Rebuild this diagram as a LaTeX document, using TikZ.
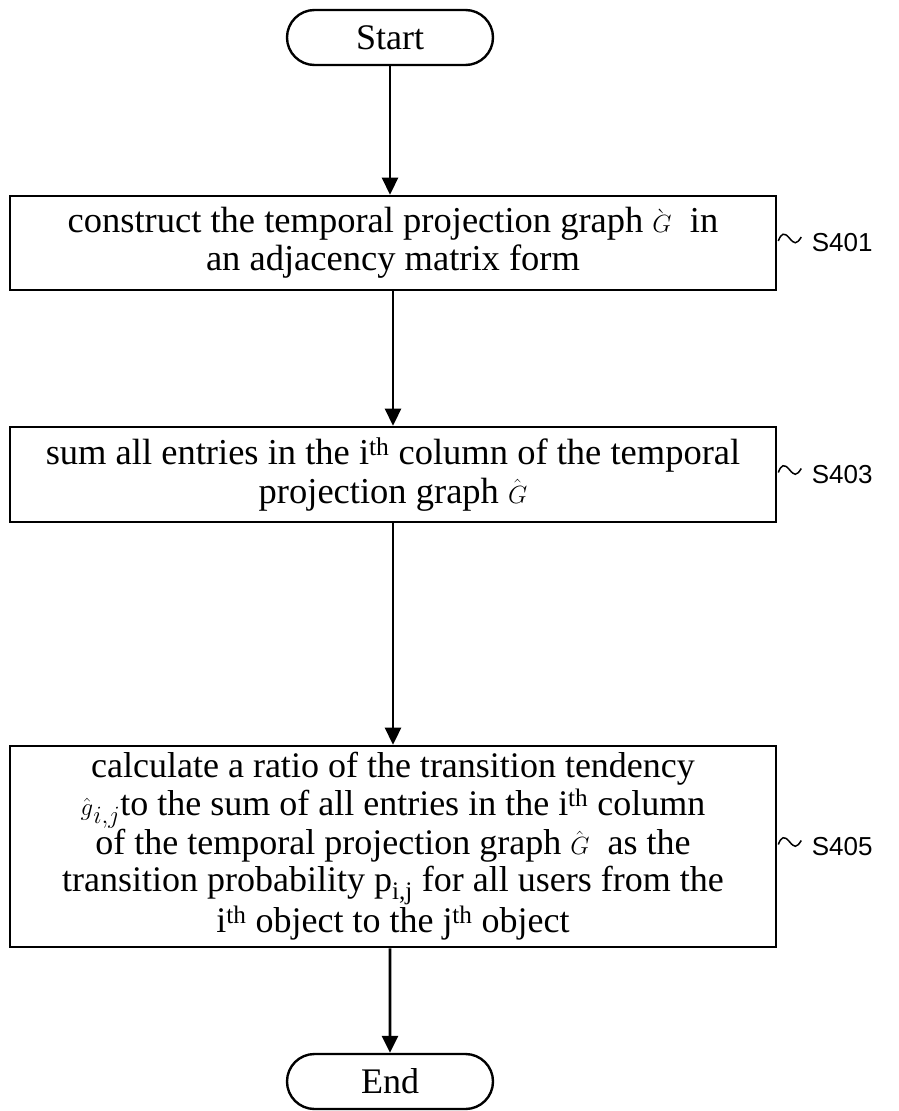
\documentclass[tikz,border=0pt]{standalone}
\usepackage{fontspec}
\setmainfont{Liberation Serif}
\newfontfamily\labfont{Liberation Sans}
\usetikzlibrary{arrows.meta,shapes.misc}
\begin{document}
\begin{tikzpicture}[x=1pt,y=-1pt,
  box/.style={draw,line width=2.6pt,minimum width=766pt,align=center,font=\fontsize{36.5}{38.5}\selectfont,inner sep=0pt},
  term/.style={draw,line width=2.4pt,rounded rectangle,minimum width=206pt,minimum height=55pt,font=\fontsize{36}{39}\selectfont,inner sep=0pt},
  arr/.style={line width=2.6pt,-{Triangle[length=17pt,width=16pt]}},
  lab/.style={font=\labfont\fontsize{26}{30}\selectfont,anchor=west},
  sq/.style={line width=1.5pt}]
\useasboundingbox (0,0) rectangle (898,1111);
\node[term] (start) at (390,37.5) {Start};
\node[box,minimum height=94pt] (s1) at (393,243) {construct the temporal projection graph $\grave{\scriptstyle G}$\ \ in\\an adjacency matrix form};
\node[box,minimum height=95pt] (s2) at (393,474.5) {sum all entries in the i\textsuperscript{th} column of the temporal\\projection graph $\hat{\scriptstyle G}$};
\node[box,minimum height=201pt,font=\fontsize{36}{37.5}\selectfont] (s3) at (393,846.5) {calculate a ratio of the transition tendency\\$\hat{\scriptstyle g}_{i,j}$to the sum of all entries in the i\textsuperscript{th} column\\of the temporal projection graph $\hat{\scriptstyle G}$\ \ as the\\transition probability p\textsubscript{i,j} for all users from the\\i\textsuperscript{th} object to the j\textsuperscript{th} object};
\node[term] (end) at (390,1081.5) {End};
\draw[arr] (start.south) -- (start.south|-s1.north);
\draw[arr] (s1) -- (s2);
\draw[arr] (s2) -- (s3);
\draw[arr] (s3.south-|end) -- (end);
\foreach \n/\t in {s1/S401,s2/S403,s3/S405}{
  \coordinate (a\n) at ([xshift=1pt,yshift=2pt]\n.east);
  \draw[sq] (a\n) .. controls +(3,-8) and +(-5,-6) .. ++(11,-3) .. controls +(5,6) and +(-5,8) .. ++(12,-1) coordinate (b\n);
  \node[lab] (l\n) at ([xshift=7pt]\n.east-|b\n) {\t};
}
\end{tikzpicture}
\end{document}
